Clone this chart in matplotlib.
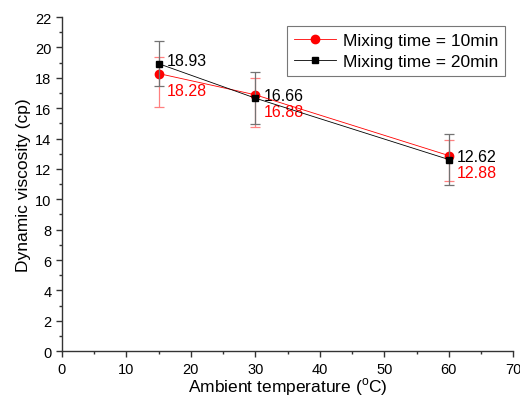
import matplotlib
matplotlib.use("Agg")
import matplotlib.pyplot as plt
from matplotlib.ticker import MultipleLocator

plt.rcParams['font.family'] = ['Liberation Sans', 'DejaVu Sans']
plt.rcParams['mathtext.fontset'] = 'custom'
plt.rcParams['mathtext.rm'] = 'Liberation Sans'

temperature = [15, 30, 60]
visc_10min = [18.28, 16.88, 12.88]
err_10min_low = [2.2, 2.1, 1.7]
err_10min_high = [1.1, 1.1, 1.0]
visc_20min = [18.93, 16.66, 12.62]
err_20min = [1.5, 1.7, 1.7]
labels_10min = ["18.28", "16.88", "12.88"]
labels_20min = ["18.93", "16.66", "12.62"]

fig = plt.figure(figsize=(5.2, 4.1), dpi=100)
ax = fig.add_axes([0.119, 0.141, 0.868, 0.815])

c1 = ax.errorbar(temperature, visc_10min, yerr=[err_10min_low, err_10min_high],
                 color='red', marker='o', markersize=6, linewidth=0.6,
                 ecolor=(1, 0.5, 0.5), elinewidth=0.9, capsize=3.6, capthick=0.9,
                 label='Mixing time = 10min', zorder=3)
c2 = ax.errorbar(temperature, visc_20min, yerr=err_20min,
                 color='black', marker='s', markersize=5, linewidth=0.6,
                 ecolor=(0.45, 0.45, 0.45), elinewidth=0.9, capsize=3.6, capthick=0.9,
                 label='Mixing time = 20min', zorder=4)

for x, y, t in zip(temperature, visc_20min, labels_20min):
    ax.annotate(t, (x, y), xytext=(8, 3), textcoords='offset pixels',
                ha='left', va='center', fontsize=11.5, color='black')
for x, y, t in zip(temperature, visc_10min, labels_10min):
    ax.annotate(t, (x, y), xytext=(8, -17), textcoords='offset pixels',
                ha='left', va='center', fontsize=11.5, color='red')

ax.set_xlim(0, 70)
ax.set_ylim(0, 22)
ax.xaxis.set_major_locator(MultipleLocator(10))
ax.xaxis.set_minor_locator(MultipleLocator(5))
ax.yaxis.set_major_locator(MultipleLocator(2))
ax.yaxis.set_minor_locator(MultipleLocator(1))
ax.spines['top'].set_visible(False)
ax.spines['right'].set_visible(False)
for s in ['left', 'bottom']:
    ax.spines[s].set_color('#333333')
    ax.spines[s].set_linewidth(1.0)
ax.tick_params(which='major', direction='out', length=4, width=1.0,
               labelsize=10.5, colors='#333333', labelcolor='black')
ax.tick_params(which='minor', direction='out', length=2.5, width=1.0, colors='#333333')

ax.set_xlabel(r'Ambient temperature ($^{\rm o}$C)', fontsize=12.5, labelpad=0)
ax.set_ylabel('Dynamic viscosity (cp)', fontsize=12.5, labelpad=3)

leg = ax.legend([c1.lines[0], c2.lines[0]],
                ['Mixing time = 10min', 'Mixing time = 20min'],
                loc='upper right', bbox_to_anchor=(0.982, 0.973), fontsize=12.5,
                frameon=True, fancybox=False, edgecolor='#555555',
                borderpad=0.4, handlelength=2.4, handletextpad=0.4,
                labelspacing=0.35, borderaxespad=0)
leg.get_frame().set_linewidth(0.8)

fig.savefig('out.png', dpi=100)
